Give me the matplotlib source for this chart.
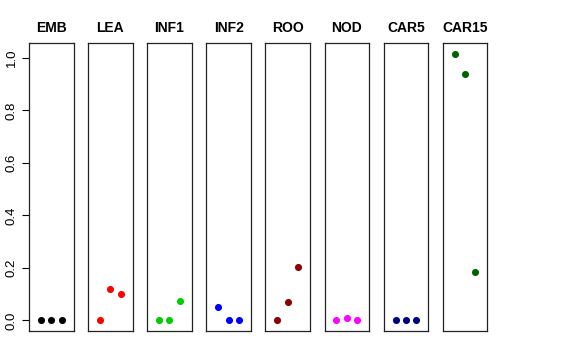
import matplotlib
matplotlib.use('Agg')
import matplotlib.pyplot as plt

plt.rcParams['font.family'] = ['Liberation Sans', 'DejaVu Sans']

# ── data ─────────────────────────────────────────────
tissues = ['EMB', 'LEA', 'INF1', 'INF2', 'ROO', 'NOD', 'CAR5', 'CAR15']
colors  = ['#000000', '#FF0000', '#00CD00', '#0000FF',
           '#8B0000', '#FF00FF', '#000080', '#006400']
x_pos   = [1, 2, 3]
values  = [
    [0.000, 0.000, 0.000],
    [0.000, 0.119, 0.100],
    [0.000, 0.000, 0.075],
    [0.051, 0.000, 0.000],
    [0.000, 0.071, 0.203],
    [0.000, 0.010, 0.001],
    [0.000, 0.000, 0.000],
    [1.015, 0.939, 0.186],
]
y_ticks = [0.0, 0.2, 0.4, 0.6, 0.8, 1.0]

W, H = 576, 360
fig = plt.figure(figsize=(W / 100, H / 100), dpi=100)

left0, step, width = 29, 59.1, 44.5
top, bottom = 43.3, 331.0
ymax = max(max(v) for v in values)
pad = 0.04 * ymax

for i, (name, col, vals) in enumerate(zip(tissues, colors, values)):
    x0 = left0 + i * step
    ax = fig.add_axes([x0 / W, 1 - bottom / H, width / W, (bottom - top) / H])
    ax.scatter(x_pos, vals, s=26, color=col, zorder=3, linewidths=0)
    ax.set_xlim(-0.16, 4.16)
    ax.set_ylim(-pad, ymax + pad)
    ax.set_xticks([])
    ax.set_title(name, fontsize=10, fontweight='bold', pad=8)
    for sp in ax.spines.values():
        sp.set_linewidth(0.9)
        sp.set_color('#222222')
    if i == 0:
        ax.set_yticks(y_ticks)
        ax.set_yticklabels([f'{t:.1f}' for t in y_ticks], rotation=90,
                           va='center', fontsize=9.5)
        ax.tick_params(axis='y', length=5, width=0.8, pad=3)
    else:
        ax.set_yticks([])

fig.savefig('out.png', dpi=100)
